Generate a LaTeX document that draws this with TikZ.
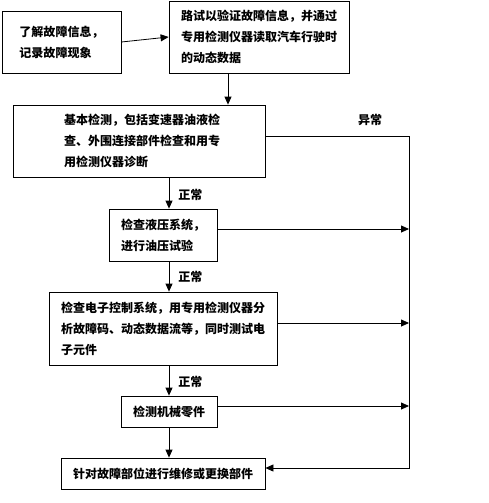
\documentclass[tikz,border=0pt]{standalone}
\usepackage{fontspec}
\setmainfont{Noto Sans CJK SC}
\usetikzlibrary{arrows.meta,calc}
\begin{document}
\begin{tikzpicture}[x=1pt,y=-1pt,
  box/.style={draw,line width=0.8pt,inner sep=0pt,align=left,font=\fontsize{12}{21}\selectfont\bfseries},
  lab/.style={inner sep=0pt,anchor=west,font=\fontsize{12}{14}\selectfont\bfseries},
  conn/.style={line width=0.8pt},
  arr/.style={conn,-{Triangle[length=8pt,width=7pt]}}]
\useasboundingbox (0,0) rectangle (488,503);
\node[box,minimum width=119,minimum height=62] (b1) at (61.5,42) {了解故障信息，\\记录故障现象};
\node[box,minimum width=180,minimum height=72] (b2) at (259,37) {路试以验证故障信息，并通过\\专用检测仪器读取汽车行驶时\\的动态数据};
\node[box,minimum width=252,minimum height=72] (b3) at (139,141) {\hspace*{6pt}基本检测，包括变速器油液检\\\hspace*{6pt}查、外围连接部件检查和用专\\\hspace*{6pt}用检测仪器诊断};
\node[box,minimum width=108,minimum height=52] (b4) at (163,235) {检查液压系统，\\进行油压试验};
\node[box,minimum width=228,minimum height=73] (b5) at (163,328.5) {检查电子控制系统，用专用检测仪器分\\析故障码、动态数据流等，同时测试电\\子元件};
\node[box,minimum width=96,minimum height=31] (b6) at (169,411.5) {检测机械零件};
\node[box,minimum width=204,minimum height=31] (b7) at (163,473.5) {针对故障部位进行维修或更换部件};
\coordinate (cx) at (228,0);
\coordinate (mx) at (169,0);
\coordinate (rx) at (409,0);
\draw[arr] (b1.east) -- (b2.west);
\draw[arr] (b2.south -| cx) -- (b3.north -| cx);
\draw[arr] (b3.south -| mx) -- node[lab,pos=0.55,xshift=9pt] (n1) {正常} (b4.north -| mx);
\draw[arr] (b4.south -| mx) -- node[lab,pos=0.5,xshift=9pt] (n2) {正常} (b5.north -| mx);
\draw[arr] (b5.south -| mx) -- node[lab,pos=0.55,xshift=9pt] (n3) {正常} (b6.north -| mx);
\draw[arr] (b6.south -| mx) -- (b7.north -| mx);
\coordinate (p3) at ($(b3.east)+(0,-5)$);
\coordinate (p4) at ($(b4.east)+(0,-6)$);
\coordinate (p5) at ($(b5.east)+(0,-5.5)$);
\coordinate (p6) at ($(b6.east)+(0,-5.5)$);
\coordinate (p7) at ($(b7.east)+(0,-5.5)$);
\draw[arr] (p3) -- (p3 -| rx) -- (p7 -| rx) -- (p7);
\node[lab] (ab) at (358,120) {异常};
\draw[arr] (p4) -- (p4 -| rx);
\draw[arr] (p5) -- (p5 -| rx);
\draw[arr] (p6) -- (p6 -| rx);
\end{tikzpicture}
\end{document}
